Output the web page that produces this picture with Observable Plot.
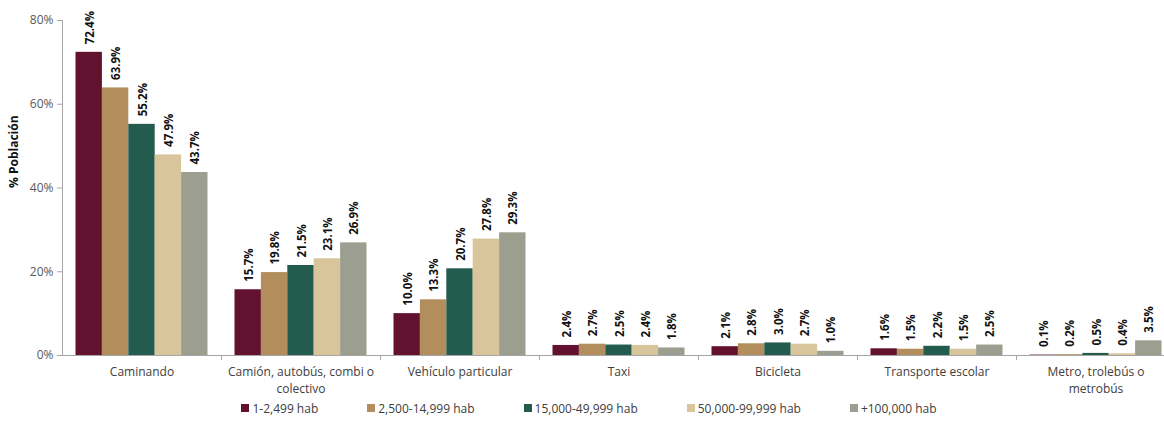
<!DOCTYPE html>
<html>
<head>
<meta charset="utf-8">
<script src="https://cdn.jsdelivr.net/npm/d3@7"></script>
<script src="https://cdn.jsdelivr.net/npm/@observablehq/plot@0.6"></script>
<style>
  body { margin: 0; background: #fff; font-family: "Open Sans", sans-serif; }
  #chart svg { overflow: visible; }
  #legend { display: flex; justify-content: center; gap: 49px; height: 26px; align-items: center; font-size: 12px; color: #404040; padding-left: 14px; }
  #legend .item { display: flex; align-items: center; }
  #legend .sw { width: 8px; height: 8px; margin-right: 3px; }
</style>
</head>
<body>
<div id="chart"></div>
<div id="legend"></div>
<script>
const categories = ["Caminando", "Camión, autobús, combi o colectivo", "Vehículo particular", "Taxi", "Bicicleta", "Transporte escolar", "Metro, trolebús o metrobús"];
const categoryLabels = ["Caminando", "Camión, autobús, combi o\ncolectivo", "Vehículo particular", "Taxi", "Bicicleta", "Transporte escolar", "Metro, trolebús o\nmetrobús"];
const series = ["1-2,499 hab", "2,500-14,999 hab", "15,000-49,999 hab", "50,000-99,999 hab", "+100,000 hab"];
const colors = ["#62112F", "#B38E5D", "#235B4E", "#D8C59C", "#9C9F90"];
const v1 = [72.4, 15.7, 10.0, 2.4, 2.1, 1.6, 0.1];
const v2 = [63.9, 19.8, 13.3, 2.7, 2.8, 1.5, 0.2];
const v3 = [55.2, 21.5, 20.7, 2.5, 3.0, 2.2, 0.5];
const v4 = [47.9, 23.1, 27.8, 2.4, 2.7, 1.5, 0.4];
const v5 = [43.7, 26.9, 29.3, 1.8, 1.0, 2.5, 3.5];
const yTicks = [0, 20, 40, 60, 80];

const values = [v1, v2, v3, v4, v5];
const labelOf = new Map(categories.map((c, i) => [c, categoryLabels[i]]));

const left = 62, right = 1175, W = 1164;
const band = (right - left) / categories.length;
const barW = 26.4;
const outer = (band - barW * series.length) / 2;

const marks = [];
values.forEach((vals, i) => {
  const rows = categories.map((c, j) => ({cat: c, value: vals[j]}));
  marks.push(Plot.barY(rows, {
    x: "cat", y: "value", fill: colors[i],
    insetLeft: outer + barW * i,
    insetRight: band - outer - barW * (i + 1)
  }));
  marks.push(Plot.text(rows, {
    x: "cat", y: "value", text: d => d.value.toFixed(1) + "%",
    rotate: -90, textAnchor: "start", lineAnchor: "middle",
    dx: (i - 2) * barW + 1, dy: -8,
    fontWeight: "bold", fontSize: 11.5, fill: "#111"
  }));
});

const chart = Plot.plot({
  width: W, height: 395,
  marginLeft: left, marginRight: 0, marginTop: 20, marginBottom: 40,
  style: {fontFamily: "'Open Sans', sans-serif", background: "#fff"},
  x: {domain: categories, range: [left, right], padding: 0, axis: null},
  y: {domain: [0, 80], axis: null},
  marks: [
    Plot.axisY({ticks: yTicks, tickFormat: d => d + "%", tickSize: 5, tickPadding: 4, stroke: "#a6a6a6", fill: "#595959", fontSize: 12, label: null}),
    Plot.ruleX([categories[0]], {x: d => d, dx: -band / 2, stroke: "#a6a6a6"}),
    Plot.ruleX(categories.slice(1), {x: d => d, dx: -band / 2, stroke: "#a6a6a6", insetTop: 335, insetBottom: -5}),
    ...marks,
    Plot.ruleY([0], {stroke: "#a6a6a6"}),
    Plot.text(categories, {x: d => d, text: d => labelOf.get(d), frameAnchor: "bottom", lineAnchor: "top", dy: 9, lineHeight: 1.4, fontSize: 12, fill: "#404040"}),
    Plot.text(["% Población"], {frameAnchor: "left", rotate: -90, dx: -48, fontWeight: "bold", fontSize: 12, fill: "#111"})
  ]
});
document.getElementById("chart").appendChild(chart);

const legend = document.getElementById("legend");
series.forEach((s, i) => {
  const item = document.createElement("div");
  item.className = "item";
  const sw = document.createElement("span");
  sw.className = "sw";
  sw.style.background = colors[i];
  item.appendChild(sw);
  item.appendChild(document.createTextNode(s));
  legend.appendChild(item);
});
</script>
</body>
</html>
